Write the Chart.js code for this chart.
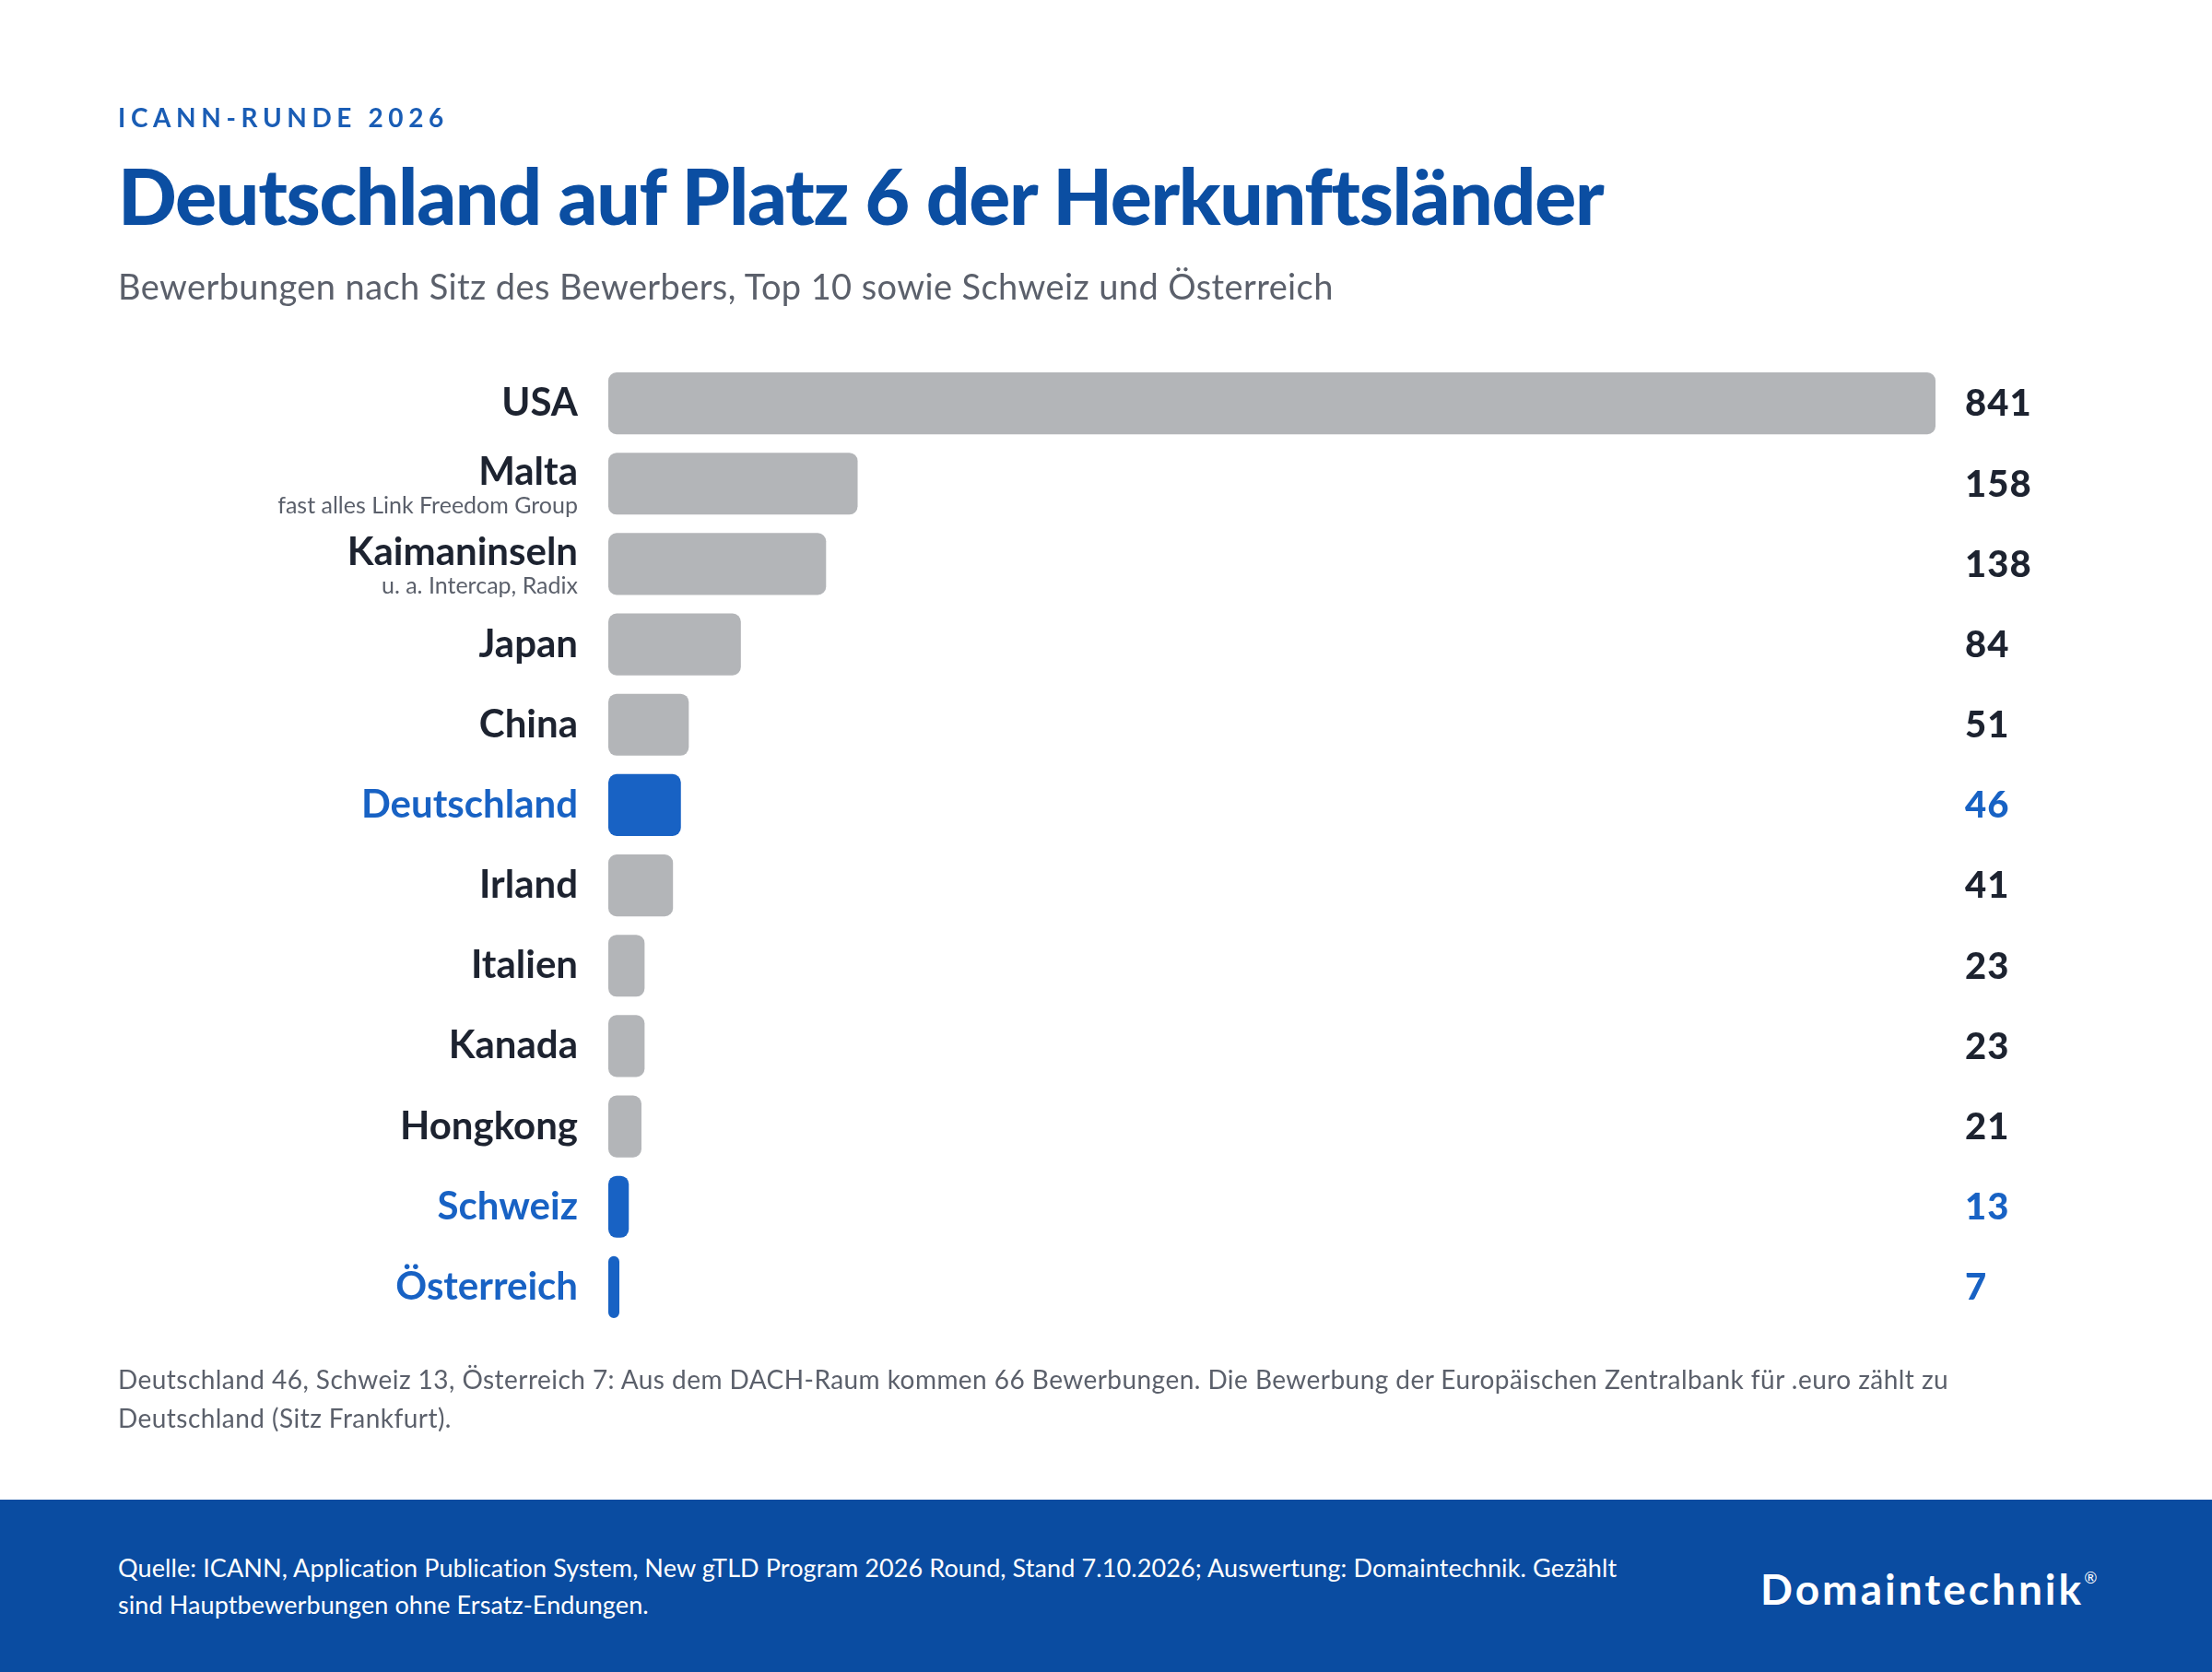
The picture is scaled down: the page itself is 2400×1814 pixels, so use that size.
<!DOCTYPE html>
<html lang="de">
<head>
  <meta charset="UTF-8" />
  <title>Deutschland auf Platz 6 der Herkunftsländer</title>
  <script src="https://cdn.jsdelivr.net/npm/chart.js@4.4.0/dist/chart.umd.min.js"></script>
  <style>
    html, body { margin: 0; padding: 0; background: #fff; }
    #page { position: relative; width: 2400px; height: 1814px; overflow: hidden; font-family: Lato, "Noto Sans", sans-serif; }
    #page canvas { position: absolute; left: 0; top: 0; }
    .txt { position: absolute; left: 128px; white-space: nowrap; }
    .kicker { top: 113px; font-size: 28px; line-height: 1; font-weight: 700; letter-spacing: 5.6px; color: #1a5db5; }
    .title { top: 170px; font-size: 84px; line-height: 1; font-weight: 900; letter-spacing: -1.3px; color: #0b4ea2; }
    .sub { top: 291px; font-size: 38px; line-height: 1; letter-spacing: 0.4px; color: #5b606b; }
    .note { top: 1475px; font-size: 28px; line-height: 42px; letter-spacing: 0.45px; color: #5b606b; }
    .band { position: absolute; left: 0; top: 1627px; width: 2400px; height: 187px; background: #0a4ca1; }
    .source { top: 1681px; font-size: 27px; line-height: 40px; letter-spacing: 0.1px; color: #fff; }
    .logo { position: absolute; left: 1910px; top: 1701px; font-size: 46px; line-height: 1; font-weight: 700; letter-spacing: 3px; color: #fff; }
    .logo sup { font-size: 17px; font-weight: 400; letter-spacing: 0; vertical-align: 23px; }
  </style>
</head>
<body>
  <div id="page">
    <canvas id="chart" width="2400" height="1814"></canvas>
    <div class="txt kicker">ICANN-RUNDE 2026</div>
    <div class="txt title">Deutschland auf Platz 6 der Herkunftsländer</div>
    <div class="txt sub">Bewerbungen nach Sitz des Bewerbers, Top 10 sowie Schweiz und Österreich</div>
    <div class="txt note">Deutschland 46, Schweiz 13, Österreich 7: Aus dem DACH-Raum kommen 66 Bewerbungen. Die Bewerbung der Europäischen Zentralbank für .euro zählt zu<br>Deutschland (Sitz Frankfurt).</div>
    <div class="band"></div>
    <div class="txt source">Quelle: ICANN, Application Publication System, New gTLD Program 2026 Round, Stand 7.10.2026; Auswertung: Domaintechnik. Gezählt<br>sind Hauptbewerbungen ohne Ersatz-Endungen.</div>
    <div class="logo">Domaintechnik<sup>®</sup></div>
  </div>
  <script>
    // data
    const countries = ['USA', 'Malta', 'Kaimaninseln', 'Japan', 'China', 'Deutschland', 'Irland', 'Italien', 'Kanada', 'Hongkong', 'Schweiz', 'Österreich'];
    const countryNotes = ['', 'fast alles Link Freedom Group', 'u. a. Intercap, Radix', '', '', '', '', '', '', '', '', ''];
    const applications = [841, 158, 138, 84, 51, 46, 41, 23, 23, 21, 13, 7];
    const isDach = [false, false, false, false, false, true, false, false, false, false, true, true];

    const GREY = '#b3b5b8';
    const BLUE = '#1862c4';
    const DARK = '#1d2330';
    const MUTED = '#5b606b';

    // country names left of the bars, counts right of the chart area
    const rowLabels = {
      id: 'rowLabels',
      afterDatasetsDraw(chart) {
        const ctx = chart.ctx;
        const y = chart.scales.y;
        const area = chart.chartArea;
        ctx.save();
        countries.forEach((name, i) => {
          const cy = y.getPixelForValue(i);
          const color = isDach[i] ? BLUE : DARK;
          const note = countryNotes[i];
          ctx.textBaseline = 'middle';
          ctx.textAlign = 'right';
          ctx.fillStyle = color;
          ctx.font = '700 42px Lato, "Noto Sans", sans-serif';
          ctx.fillText(name, area.left - 33, note ? cy - 12 : cy);
          if (note) {
            ctx.fillStyle = MUTED;
            ctx.font = '400 25px Lato, "Noto Sans", sans-serif';
            ctx.fillText(note, area.left - 33, cy + 24);
          }
          ctx.textAlign = 'left';
          ctx.fillStyle = color;
          ctx.font = '900 40px Lato, "Noto Sans", sans-serif';
          ctx.letterSpacing = '1px';
          ctx.fillText(String(applications[i]), area.right + 32, cy + 1);
          ctx.letterSpacing = '0px';
        });
        ctx.restore();
      }
    };

    new Chart(document.getElementById('chart'), {
      type: 'bar',
      data: {
        labels: countries,
        datasets: [{
          data: applications,
          backgroundColor: isDach.map(d => d ? BLUE : GREY),
          borderRadius: 9,
          borderSkipped: false,
          barPercentage: 0.77,
          categoryPercentage: 1
        }]
      },
      options: {
        indexAxis: 'y',
        responsive: false,
        animation: false,
        layout: { padding: { left: 660, right: 300, top: 394, bottom: 374 } },
        plugins: { legend: { display: false }, tooltip: { enabled: false } },
        scales: {
          x: { display: false, min: 0, max: 841 },
          y: { display: false, offset: true }
        }
      },
      plugins: [rowLabels]
    });
  </script>
</body>
</html>
